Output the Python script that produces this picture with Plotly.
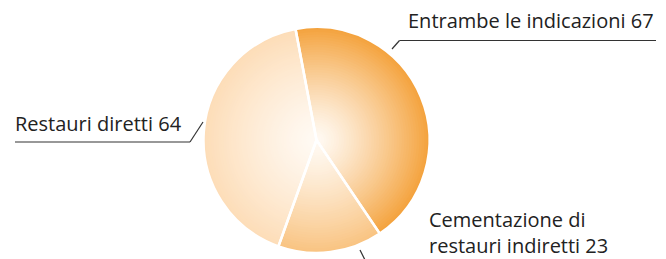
import plotly.graph_objects as go

# ---- data ----
labels = ["Entrambe le indicazioni", "Cementazione di<br>restauri indiretti", "Restauri diretti"]
values = [67, 23, 64]

# ---- style ----
W, H = 666, 259
CX, CY, R = 316.5, 140.0, 113.0
edge_colors = [(244, 163, 62), (249, 196, 130), (253, 221, 184)]
center_color = (255, 250, 244)
N = 45

def mix(c0, c1, t):
    return "rgb(%d,%d,%d)" % tuple(round(a + (b - a) * t) for a, b in zip(c0, c1))

fig = go.Figure()
for k in range(N, 0, -1):
    r = R * k / N
    t = (k / N) ** 1.25
    fig.add_trace(go.Pie(
        labels=labels, values=values, sort=False, direction="clockwise", rotation=-10.7,
        domain=dict(x=[(CX - r) / W, (CX + r) / W], y=[(H - CY - r) / H, (H - CY + r) / H]),
        marker=dict(colors=[mix(center_color, ec, t) for ec in edge_colors], line=dict(width=0)),
        textinfo="none", hoverinfo="skip", showlegend=False,
    ))
# separators
fig.add_trace(go.Pie(
    labels=labels, values=values, sort=False, direction="clockwise", rotation=-10.7,
    domain=dict(x=[(CX - R) / W, (CX + R) / W], y=[(H - CY - R) / H, (H - CY + R) / H]),
    marker=dict(colors=["rgba(0,0,0,0)"] * 3, line=dict(width=2.5, color="white")),
    textinfo="none", hoverinfo="skip", showlegend=False,
))

def px(x):
    return x / W

def py(y):
    return 1 - y / H

FS = 20
font = dict(family="Open Sans", size=FS, color="#222222")
# annotations: (label index, x-left, mean baseline)
label_pos = {0: (406, 28.5), 2: (13, 131.5), 1: (427, 240.3)}
for i, (x0, base) in label_pos.items():
    fig.add_annotation(x=px(x0), y=py(base - 0.388 * FS), xref="paper", yref="paper",
                       text=labels[i] + " " + str(values[i]), showarrow=False, align="left",
                       xanchor="left", yanchor="middle", font=font)

leaders = [
    [(392, 49), (399.5, 40.5), (656, 40.5)],
    [(203, 122), (190, 142), (15, 142)],
    [(360, 250), (366, 262)],
]
for pts in leaders:
    for (xa, ya), (xb, yb) in zip(pts[:-1], pts[1:]):
        fig.add_shape(type="line", xref="paper", yref="paper", x0=px(xa), y0=py(ya), x1=px(xb), y1=py(yb),
                      line=dict(color="#333333", width=1.2))

fig.update_layout(width=W, height=H, margin=dict(l=0, r=0, t=0, b=0),
                  paper_bgcolor="white", plot_bgcolor="white", showlegend=False)
fig.write_html("out.html", config={"displayModeBar": False},
               post_script="document.body.style.margin='0';document.body.style.overflow='hidden';")
